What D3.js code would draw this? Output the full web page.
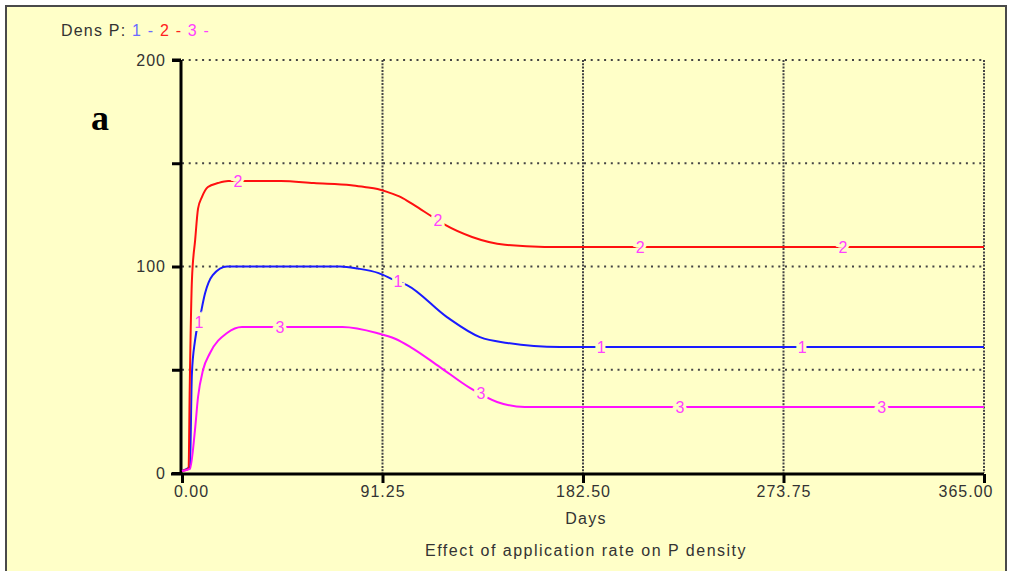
<!DOCTYPE html>
<html>
<head>
<meta charset="utf-8">
<script src="https://cdn.jsdelivr.net/npm/d3@7"></script>
<style>
  body { margin: 0; background: #fff; }
  text { font-family: "Liberation Sans", Arial, sans-serif; }
</style>
</head>
<body>
<div class="chart"></div>
<script>
// Chart data
var days1 = [0, 3.6, 4.5, 5.9, 8.2, 10.5, 14, 20.5, 72, 80, 89.5, 96.5, 102.4, 120.6, 135.6, 148, 172, 365];
var dens1 = [1, 3, 48, 64, 75.5, 87, 95.8, 100, 100, 99, 96.8, 93.5, 91, 75.5, 65.8, 63, 61, 61];

var days2 = [0, 3, 3.5, 4.5, 6, 7.3, 9.1, 11.8, 16.4, 21, 45, 60, 77, 83, 89, 93.7, 99.6, 105.5, 114, 120, 132, 147, 165, 365];
var dens2 = [1, 2, 40, 93, 113, 128, 133.7, 138.5, 140.4, 141.4, 141.4, 140.4, 139.4, 138.5, 137.5, 136, 133.6, 129.8, 124, 120, 114.3, 110.5, 109.5, 109.5];

var days3 = [0, 3.6, 5.9, 7.3, 9.6, 12.7, 20.5, 27.3, 73, 88.7, 97, 104, 117.4, 131, 143.4, 156, 365];
var dens3 = [1, 2, 20.8, 36.8, 50, 58, 67.8, 70.7, 70.7, 67.8, 65, 61, 51.3, 41.2, 34.4, 32, 32];

var labelDays1 = [7.7, 98.3, 190.8, 282.3];
var labelDays2 = [25.5, 116.5, 208.5, 300.8];
var labelDays3 = [44.6, 136.1, 226.6, 318.5];

var xTicks = [0, 91.25, 182.5, 273.75, 365];
var yTicks = [0, 50, 100, 150, 200];
var yTickLabels = [0, 100, 200];

var series = [
  { name: "1", days: days1, dens: dens1, labels: labelDays1, color: "#1a1aff" },
  { name: "2", days: days2, dens: dens2, labels: labelDays2, color: "#ff1010" },
  { name: "3", days: days3, dens: dens3, labels: labelDays3, color: "#ff10ff" }
];

var svgWidth = 1011;
var svgHeight = 571;
var bg = "#ffffc8";

var svg = d3.select(".chart")
  .append("svg")
  .attr("width", svgWidth)
  .attr("height", svgHeight);

// panel frame
svg.append("rect")
  .attr("x", 6).attr("y", 6)
  .attr("width", 1000).attr("height", 600)
  .attr("fill", bg)
  .attr("stroke", "#4a4a4a")
  .attr("stroke-width", 2);

var x = d3.scaleLinear().domain([0, 365]).range([182, 984]);
var y = d3.scaleLinear().domain([0, 200]).range([473, 60]);

// grid
svg.append("g").selectAll("line")
  .data(yTicks.filter(d => d > 0))
  .enter().append("line")
  .attr("x1", x(0)).attr("x2", x(365))
  .attr("y1", d => y(d)).attr("y2", d => y(d))
  .attr("stroke", "#444")
  .attr("stroke-width", 2)
  .attr("stroke-dasharray", "2,4.7");

svg.append("g").selectAll("line")
  .data(xTicks.filter(d => d > 0))
  .enter().append("line")
  .attr("x1", d => x(d)).attr("x2", d => x(d))
  .attr("y1", y(200)).attr("y2", y(0))
  .attr("stroke", "#444")
  .attr("stroke-width", 2)
  .attr("stroke-dasharray", "2,1.3");

// axes
var yAxis = svg.append("g")
  .attr("transform", `translate(${x(0) - 1}, 0)`)
  .call(d3.axisLeft(y).tickValues(yTicks).tickSize(9)
    .tickFormat(d => yTickLabels.includes(d) ? d3.format("d")(d) : ""));
var xAxis = svg.append("g")
  .attr("transform", `translate(0, ${y(0) + 1})`)
  .call(d3.axisBottom(x).tickValues(xTicks).tickSize(9).tickFormat(d3.format(".2f")));

[xAxis, yAxis].forEach(function (ax) {
  ax.select(".domain").attr("stroke", "#000").attr("stroke-width", 3);
  ax.selectAll(".tick line").attr("stroke", "#000").attr("stroke-width", 3);
  ax.selectAll(".tick text")
    .attr("fill", "#333")
    .style("font-size", "16px")
    .style("letter-spacing", "1px")
    .style("font-family", "'Liberation Sans', Arial, sans-serif");
});
yAxis.select(".domain").attr("d", `M0,${y(200)}H-9M0,${y(200)}V${y(0)}`);
xAxis.select(".domain").attr("d", `M${x(0) - 11},0H${x(365)}`);
yAxis.selectAll(".tick text").attr("x", -15);
xAxis.selectAll(".tick text").attr("y", 12);
xAxis.selectAll(".tick text")
  .filter(d => d === 0).attr("dx", 9);
xAxis.selectAll(".tick text")
  .filter(d => d === 365).attr("text-anchor", "end").attr("dx", 9);

// lines
var line = d3.line()
  .x(d => x(d[0]))
  .y(d => y(d[1]))
  .curve(d3.curveMonotoneX);

function valueAt(s, t) {
  var i = d3.bisectRight(s.days, t);
  var t0 = s.days[i - 1], t1 = s.days[i];
  var v0 = s.dens[i - 1], v1 = s.dens[i];
  return v0 + (v1 - v0) * (t - t0) / (t1 - t0);
}

series.forEach(function (s) {
  svg.append("path")
    .datum(d3.zip(s.days, s.dens))
    .attr("fill", "none")
    .attr("stroke", s.color)
    .attr("stroke-width", 2)
    .attr("d", line);
});

series.forEach(function (s) {
  svg.append("g").selectAll("text")
    .data(s.labels)
    .enter().append("text")
    .attr("x", d => x(d))
    .attr("y", d => y(valueAt(s, d)))
    .attr("dy", "0.36em")
    .attr("text-anchor", "middle")
    .attr("fill", "#ff40ff")
    .attr("stroke", bg)
    .attr("stroke-width", 6)
    .attr("paint-order", "stroke")
    .style("font-size", "16px")
    .text(s.name);
});

// legend
var legend = svg.append("text")
  .attr("x", 61).attr("y", 36)
  .style("font-size", "16px")
  .style("letter-spacing", "1.2px");
legend.append("tspan").attr("fill", "#333").text("Dens P: ");
legend.append("tspan").attr("fill", "#6a6aff").text("1 - ");
legend.append("tspan").attr("fill", "#ff2020").text("2 - ");
legend.append("tspan").attr("fill", "#ff40ff").text("3 -");

// panel letter
svg.append("text")
  .attr("x", 91).attr("y", 130)
  .style("font-family", "'Liberation Serif', 'Times New Roman', serif")
  .style("font-weight", "bold")
  .style("font-size", "36px")
  .attr("fill", "#000")
  .text("a");

// axis titles
svg.append("text")
  .attr("x", 586).attr("y", 524)
  .attr("text-anchor", "middle")
  .attr("fill", "#333")
  .style("font-size", "16px")
  .style("letter-spacing", "1.2px")
  .text("Days");

svg.append("text")
  .attr("x", 586).attr("y", 556)
  .attr("text-anchor", "middle")
  .attr("fill", "#333")
  .style("font-size", "16px")
  .style("letter-spacing", "1.5px")
  .text("Effect of application rate on P density");
</script>
</body>
</html>
